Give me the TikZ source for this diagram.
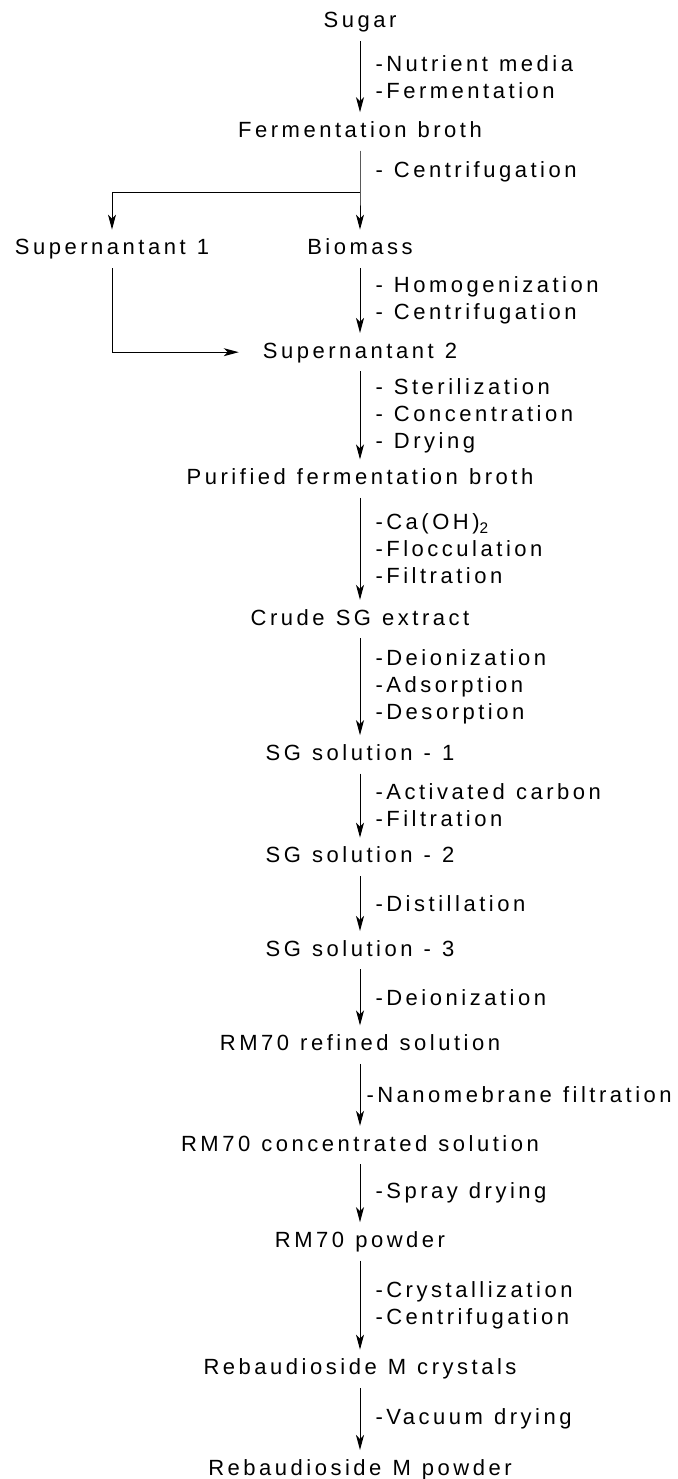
\documentclass[tikz,border=0pt]{standalone}
\usepackage{fontspec}
\setmainfont{Liberation Sans}[LetterSpace=16, WordSpace=1.15]
\usetikzlibrary{arrows.meta,positioning}

\begin{document}
\begin{tikzpicture}[
    x=1pt, y=-1pt,
    stage/.style={font=\fontsize{22}{27}\selectfont, text height=16pt, text depth=4pt, inner ysep=9pt, inner xsep=3pt},
    op/.style={right, xshift=12pt, align=left, inner sep=3pt, font=\fontsize{22}{27}\selectfont},
    arrow/.style={-{Stealth[length=15pt, width=8pt, inset=4pt]}, line width=1pt},
]
    \useasboundingbox (0,0) rectangle (677,1479);

    \node[stage] (sugar) at (360,22) {Sugar};
    \node[stage, below=71pt of sugar] (broth) {Fermentation broth};
    \coordinate[below=42pt of broth.south] (split);
    \node[stage, below=79pt of broth] (bio) {Biomass};
    \node[stage] (sup1) at (112,0 |- bio) {Supernantant 1};
    \node[stage, below=65pt of bio] (sup2) {Supernantant 2};
    \node[stage, below=88pt of sup2] (pure) {Purified fermentation broth};
    \node[stage, below=102pt of pure] (crude) {Crude SG extract};
    \node[stage, below=97pt of crude] (sg1) {SG solution - 1};
    \node[stage, below=64pt of sg1] (sg2) {SG solution - 2};
    \node[stage, below=55pt of sg2] (sg3) {SG solution - 3};
    \node[stage, below=56pt of sg3] (refined) {RM70 refined solution};
    \node[stage, below=62pt of refined] (conc) {RM70 concentrated solution};
    \node[stage, below=58pt of conc] (rmpow) {RM70 powder};
    \node[stage, below=89pt of rmpow] (cryst) {Rebaudioside M crystals};
    \node[stage, below=62pt of cryst] (rebpow) {Rebaudioside M powder};

    \draw[arrow] (sugar) -- node[op] {-Nutrient media\\-Fermentation} (broth);
    \draw[arrow] (broth) -- node[op] {- Centrifugation} (split) -- (bio);
    \draw[arrow] (split) -| (sup1);
    \draw[arrow] (bio) -- node[op] {- Homogenization\\- Centrifugation} (sup2);
    \draw[arrow, shorten >=21pt] (sup1) |- (sup2);
    \draw[arrow] (sup2) -- node[op] {- Sterilization\\- Concentration\\- Drying} (pure);
    \draw[arrow] (pure) -- node[op] {-Ca(OH)\textsubscript{2}\\-Flocculation\\-Filtration} (crude);
    \draw[arrow] (crude) -- node[op] {-Deionization\\-Adsorption\\-Desorption} (sg1);
    \draw[arrow] (sg1) -- node[op] {-Activated carbon\\-Filtration} (sg2);
    \draw[arrow] (sg2) -- node[op] {-Distillation} (sg3);
    \draw[arrow] (sg3) -- node[op] {-Deionization} (refined);
    \draw[arrow] (refined) -- node[op, xshift=-9pt] {-Nanomebrane filtration} (conc);
    \draw[arrow] (conc) -- node[op] {-Spray drying} (rmpow);
    \draw[arrow] (rmpow) -- node[op] {-Crystallization\\-Centrifugation} (cryst);
    \draw[arrow] (cryst) -- node[op] {-Vacuum drying} (rebpow);
\end{tikzpicture}
\end{document}
